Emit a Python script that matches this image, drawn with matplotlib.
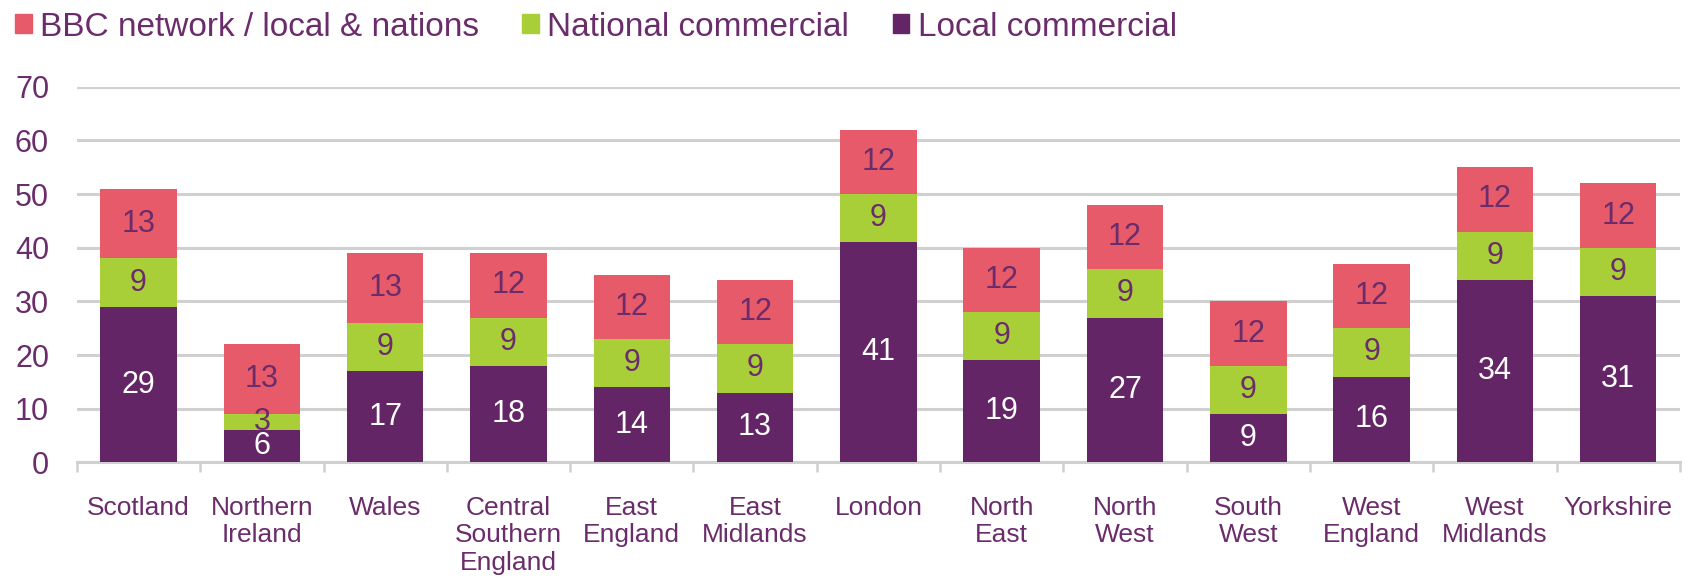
import matplotlib.pyplot as plt
import numpy as np
from matplotlib.patches import Patch

plt.rcParams['font.family'] = ['Liberation Sans', 'DejaVu Sans']

# Stations by region, stacked by source
regions = ["Scotland", "Northern\nIreland", "Wales", "Central\nSouthern\nEngland",
           "East\nEngland", "East\nMidlands", "London", "North\nEast", "North\nWest",
           "South\nWest", "West\nEngland", "West\nMidlands", "Yorkshire"]
local_commercial = [29, 6, 17, 18, 14, 13, 41, 19, 27, 9, 16, 34, 31]
national_commercial = [9, 3, 9, 9, 9, 9, 9, 9, 9, 9, 9, 9, 9]
bbc = [13, 13, 13, 12, 12, 12, 12, 12, 12, 12, 12, 12, 12]

PURPLE = "#642566"
GREEN = "#A8CE38"
PINK = "#E65A6A"
TEXT = "#6B2C6B"
GRID = "#D0D0D0"

fig = plt.figure(figsize=(16.9, 5.79), dpi=100)
ax = fig.add_axes([0.0455, 0.2015, 0.9485, 0.6485])

x = np.arange(len(regions))
w = 0.62
local_arr = np.array(local_commercial)
nat_arr = np.array(national_commercial)
bbc_arr = np.array(bbc)

b1 = ax.bar(x, local_arr, w, color=PURPLE, zorder=3)
b2 = ax.bar(x, nat_arr, w, bottom=local_arr, color=GREEN, zorder=3)
b3 = ax.bar(x, bbc_arr, w, bottom=local_arr + nat_arr, color=PINK, zorder=3)

ax.bar_label(b1, labels=[str(v) for v in local_arr], label_type='center',
             color='white', fontsize=22, zorder=4)
ax.bar_label(b2, labels=[str(v) for v in nat_arr], label_type='center',
             color=TEXT, fontsize=22, zorder=4)
ax.bar_label(b3, labels=[str(v) for v in bbc_arr], label_type='center',
             color=TEXT, fontsize=22, zorder=4)

ax.set_xlim(-0.5, len(regions) - 0.5)
ax.set_ylim(0, 70)
ax.set_yticks(range(0, 71, 10))
ax.yaxis.grid(True, color=GRID, linewidth=2.2, zorder=0)
ax.tick_params(axis='y', length=0, pad=20, labelsize=22, labelcolor=TEXT)

ax.set_xticks(x)
ax.set_xticklabels(regions, fontsize=19, color=TEXT, linespacing=1.2, va='top')
ax.tick_params(axis='x', which='major', length=0, pad=24)
ax.set_xticks(np.arange(-0.5, len(regions), 1.0), minor=True)
ax.tick_params(axis='x', which='minor', length=7, width=1.8, color=GRID, direction='out')

for s in ['top', 'right', 'left']:
    ax.spines[s].set_visible(False)
ax.spines['bottom'].set_color(GRID)
ax.spines['bottom'].set_linewidth(2.2)

handles = [Patch(color=PINK, label="BBC network / local & nations"),
           Patch(color=GREEN, label="National commercial"),
           Patch(color=PURPLE, label="Local commercial")]
leg = fig.legend(handles=handles, loc='upper left', bbox_to_anchor=(-0.005, 1.02),
                 ncol=3, frameon=False, fontsize=24, handlelength=0.5,
                 handleheight=0.5, handletextpad=0.25, columnspacing=1.3,
                 borderaxespad=0.3)
for t in leg.get_texts():
    t.set_color(TEXT)

fig.savefig("out.png", dpi=100)
